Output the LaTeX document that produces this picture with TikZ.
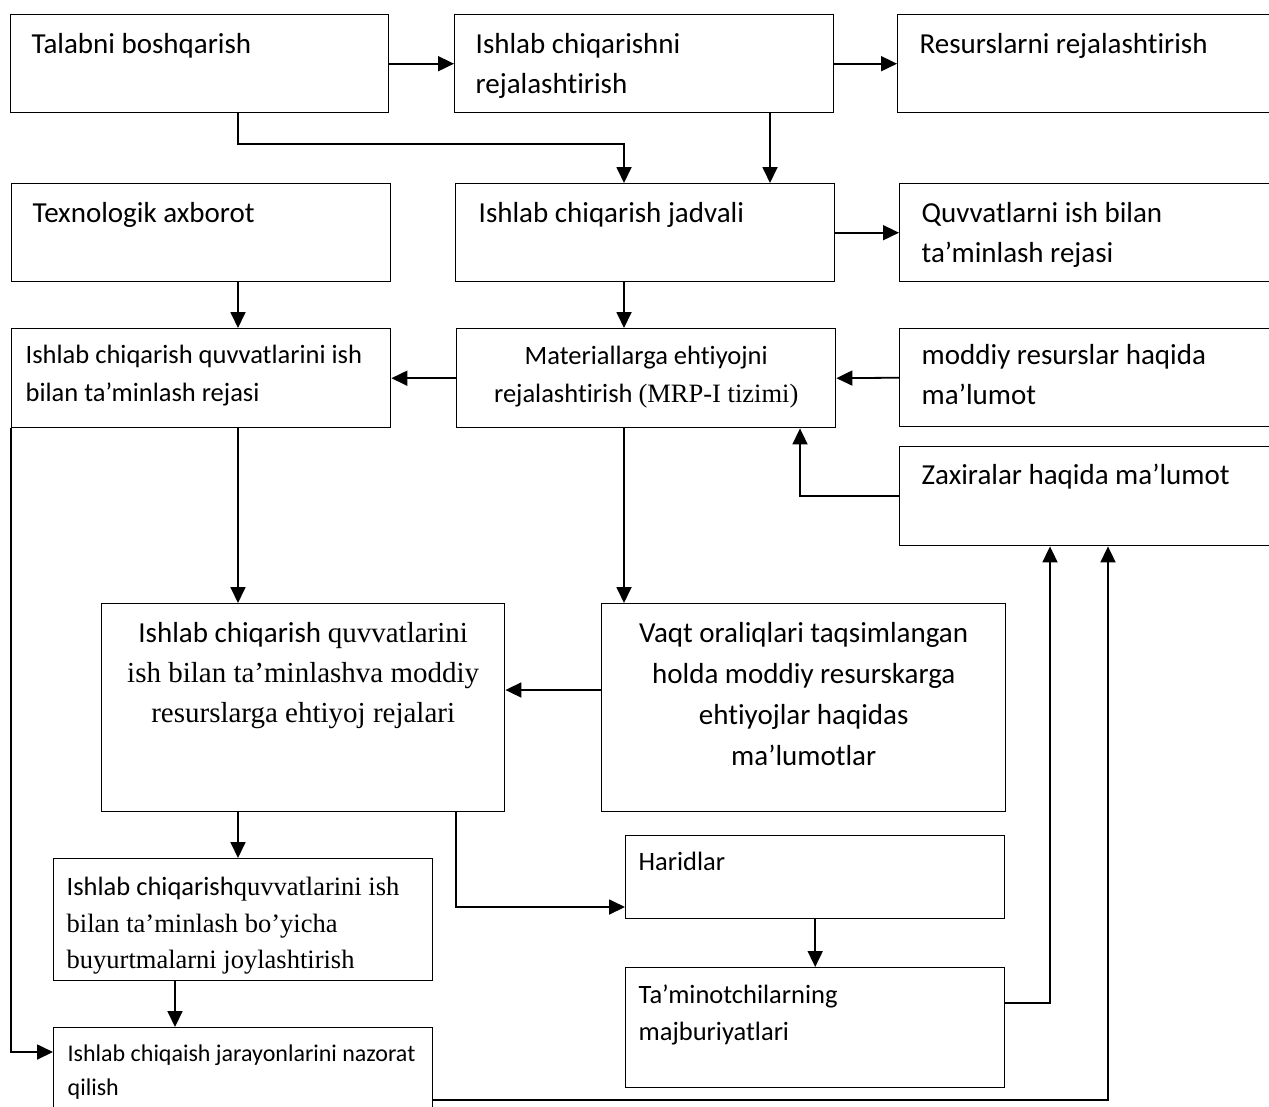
\documentclass[tikz,border=0pt]{standalone}
\usepackage{fontspec}
\setmainfont{Carlito}[Ligatures={NoCommon}]
\newfontfamily\tnr{Liberation Serif}
\usetikzlibrary{arrows.meta}

\newcommand{\fbig}{\fontsize{29}{40}\selectfont}
\newcommand{\fmid}{\fontsize{26.5}{38}\selectfont}
\newcommand{\fsml}{\fontsize{24}{34}\selectfont}
% width, height, left gap, first baseline, text
\newcommand{\boxtxt}[5]{\parbox[c][#2][t]{#1}{\raggedright\leftskip=#3\relax\rule{0pt}{#4}#5}}

\tikzset{
  blk/.style={draw, line width=1.4pt, anchor=north west, inner sep=0pt, font=\fbig},
  arr/.style={line width=1.8pt, -{Triangle[length=16pt,width=15pt]}},
  ln/.style={line width=1.8pt}
}

\begin{document}
\begin{tikzpicture}[x=1pt,y=-1pt]
\useasboundingbox (0,0) rectangle (1269,1106);
\clip (0,0) rectangle (1269,1106);

% columns and rows of the connectors
\coordinate (colH) at (175,0);
\coordinate (colA) at (238,0);
\coordinate (colG) at (456,0);
\coordinate (colB) at (624,0);
\coordinate (colC) at (770,0);
\coordinate (colD) at (800,0);
\coordinate (colE) at (1050,0);
\coordinate (colF) at (1108,0);
\coordinate (bend1) at (624,144);
\coordinate (row1) at (0,690);
\coordinate (row2) at (0,907);
\coordinate (row3) at (0,1003);
\coordinate (row4) at (0,1052);
\coordinate (row5) at (0,1100);

% first row
\node[blk] (tal) at (10,14) {\boxtxt{378pt}{98pt}{21pt}{39pt}{Talabni boshqarish}};
\node[blk] (ich) at (454,14) {\boxtxt{379pt}{98pt}{21pt}{39pt}{Ishlab chiqarishni\\rejalashtirish}};
\node[blk] (res) at (897,14) {\boxtxt{383pt}{98pt}{22pt}{39pt}{Resurslarni rejalashtirish}};

% second row
\node[blk] (tex) at (11,183) {\boxtxt{379pt}{98pt}{21pt}{39pt}{Texnologik axborot}};
\node[blk] (jad) at (455,183) {\boxtxt{379pt}{98pt}{23pt}{39pt}{Ishlab chiqarish jadvali}};
\node[blk] (quv) at (899,183) {\boxtxt{381pt}{98pt}{22pt}{39pt}{Quvvatlarni ish bilan\\ta’minlash rejasi}};

% third row
\node[blk, font=\fmid] (pln) at (11,328) {\boxtxt{379pt}{99pt}{14pt}{35pt}{Ishlab chiqarish quvvatlarini ish\\bilan ta’minlash rejasi}};
\node[blk, font=\fmid] (mrp) at (456,328) {\boxtxt{379pt}{99pt}{0pt}{36pt}{\centering Materiallarga ehtiyojni\\rejalashtirish {\tnr (MRP-I tizimi)}}};
\node[blk] (mod) at (899,328) {\boxtxt{381pt}{98pt}{22pt}{36pt}{moddiy resurslar haqida\\ma’lumot}};
\node[blk] (zax) at (899,446) {\boxtxt{381pt}{99pt}{22pt}{38pt}{Zaxiralar haqida ma’lumot}};

% big boxes
\node[blk] (big) at (101,603) {\boxtxt{403pt}{208pt}{0pt}{39pt}{\centering Ishlab chiqarish {\tnr quvvatlarini}\\{\tnr ish bilan ta’minlashva moddiy}\\{\tnr resurslarga ehtiyoj rejalari}}};
\node[blk, font={\fontsize{29}{41}\selectfont}] (vaq) at (601,603) {\boxtxt{404pt}{208pt}{0pt}{39pt}{\centering Vaqt oraliqlari taqsimlangan\\holda moddiy resurskarga\\ehtiyojlar haqidas\\ma’lumotlar}};

% lower boxes
\node[blk, font=\fmid] (har) at (625,835) {\boxtxt{379pt}{83pt}{13pt}{35pt}{Haridlar}};
\node[blk, font={\fontsize{26.5}{36.5}\selectfont}] (buy) at (53,858) {\boxtxt{379pt}{122pt}{13pt}{37pt}{Ishlab chiqarish{\tnr quvvatlarini ish}\\{\tnr bilan ta’minlash bo’yicha}\\{\tnr buyurtmalarni joylashtirish}}};
\node[blk, font={\fontsize{26.5}{37}\selectfont}] (tam) at (625,967) {\boxtxt{379pt}{120pt}{13pt}{36pt}{Ta’minotchilarning\\majburiyatlari}};
\node[blk, font=\fsml] (naz) at (53,1027) {\boxtxt{379pt}{90pt}{14pt}{34pt}{Ishlab chiqaish jarayonlarini nazorat\\qilish}};

% connectors
\draw[arr] (tal.east) -- (ich.west);
\draw[arr] (ich.east) -- (res.west);
\draw[arr] (tal.south -| colA) |- (bend1) -- (jad.north -| bend1);
\draw[arr] (ich.south -| colC) -- (jad.north -| colC);
\draw[arr] (jad.east) -- (quv.west);
\draw[arr] (tex.south -| colA) -- (pln.north -| colA);
\draw[arr] (jad.south -| colB) -- (mrp.north -| colB);
\draw[arr] (mrp.west) -- (pln.east);
\draw[arr] (mod.west) -- (mrp.east);
\draw[arr] (zax.west) -| (mrp.south -| colD);
\draw[arr] (pln.south -| colA) -- (big.north -| colA);
\draw[arr] (mrp.south -| colB) -- (vaq.north -| colB);
\draw[arr] (vaq.west |- row1) -- (big.east |- row1);
\draw[arr] (big.south -| colA) -- (buy.north -| colA);
\draw[arr] (big.south -| colG) |- (har.west |- row2);
\draw[arr] (har.south) -- (tam.north);
\draw[arr] (tam.east |- row3) -| (zax.south -| colE);
\draw[arr] (buy.south -| colH) -- (naz.north -| colH);
\draw[arr] (pln.south west) |- (naz.west |- row4);
\draw[arr] (naz.east |- row5) -| (zax.south -| colF);

\end{tikzpicture}
\end{document}
